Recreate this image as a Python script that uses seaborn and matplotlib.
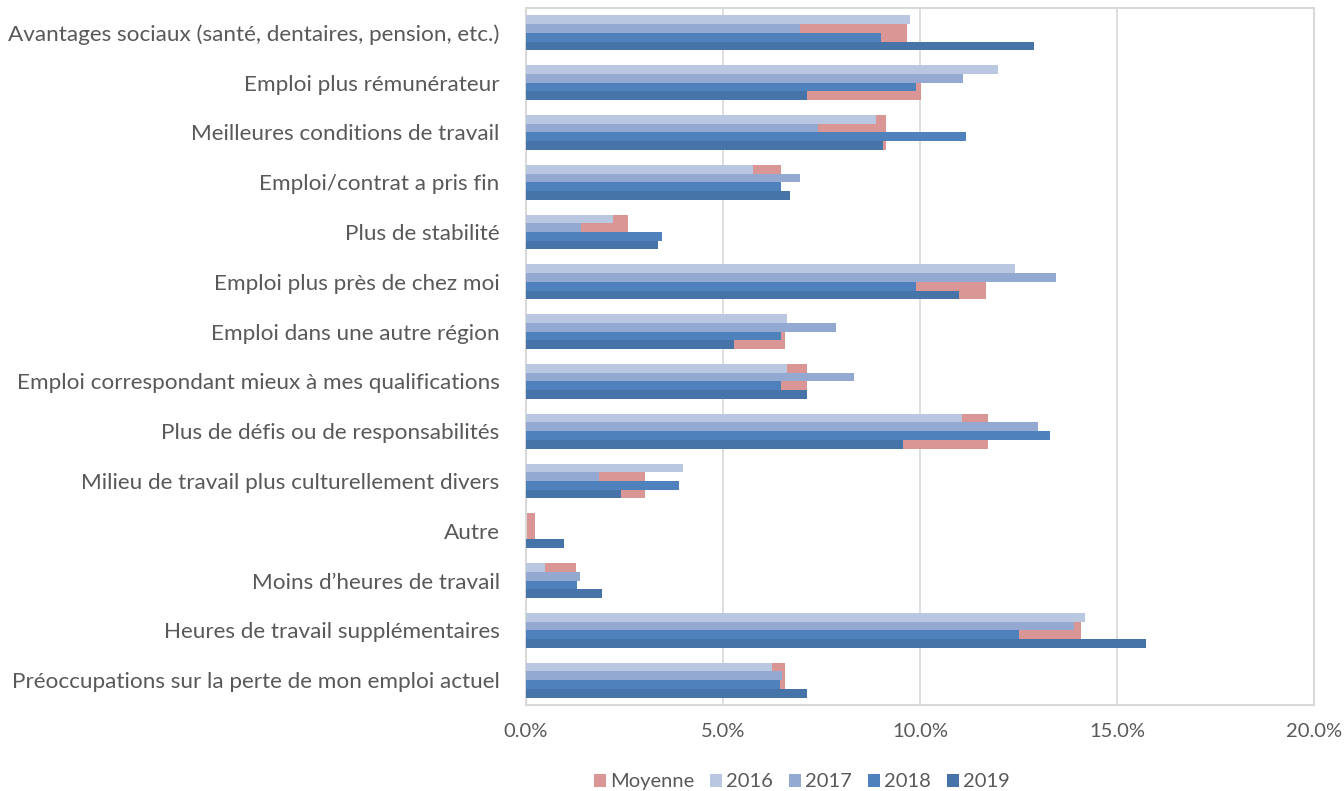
import pandas as pd
import matplotlib
matplotlib.use("Agg")
import matplotlib.pyplot as plt
import seaborn as sns
from matplotlib.ticker import PercentFormatter

# Raisons de changer d'emploi (% des répondants)
categories = [
    "Avantages sociaux (santé, dentaires, pension, etc.)",
    "Emploi plus rémunérateur",
    "Meilleures conditions de travail",
    "Emploi/contrat a pris fin",
    "Plus de stabilité",
    "Emploi plus près de chez moi",
    "Emploi dans une autre région",
    "Emploi correspondant mieux à mes qualifications",
    "Plus de défis ou de responsabilités",
    "Milieu de travail plus culturellement divers",
    "Autre",
    "Moins d\u2019heures de travail",
    "Heures de travail supplémentaires",
    "Préoccupations sur la perte de mon emploi actuel",
]
years = ["2016", "2017", "2018", "2019"]
v2016 = [9.75, 11.98, 8.88, 5.77, 2.20, 12.40, 6.63, 6.63, 11.07, 3.98, 0.0, 0.47, 14.18, 6.24]
v2017 = [6.96, 11.10, 7.42, 6.96, 1.39, 13.45, 7.87, 8.32, 12.99, 1.84, 0.0, 1.38, 13.92, 6.49]
v2018 = [9.02, 9.89, 11.16, 6.46, 3.44, 9.90, 6.46, 6.46, 13.31, 3.89, 0.0, 1.29, 12.50, 6.45]
v2019 = [12.90, 7.14, 9.07, 6.69, 3.35, 10.98, 5.27, 7.13, 9.57, 2.40, 0.97, 1.93, 15.73, 7.13]
moyenne = [9.66, 10.03, 9.13, 6.47, 2.60, 11.68, 6.56, 7.14, 11.73, 3.03, 0.24, 1.27, 14.08, 6.58]

year_colors = ["#B9C7E1", "#93A9D1", "#4F81BD", "#4673A8"]
moy_color = "#D99694"
text_grey = "#595959"

df_years = pd.DataFrame({
    "cat": categories * 4,
    "annee": [y for y in years for _ in categories],
    "val": v2016 + v2017 + v2018 + v2019,
})
df_moy = pd.DataFrame({"cat": categories, "val": moyenne})

sns.set_style("white")
plt.rcParams["font.family"] = ["Lato", "DejaVu Sans"]

fig = plt.figure(figsize=(13.44, 7.91), dpi=100)
ax = fig.add_axes([0.3914, 0.1087, 0.5863, 0.8812])

# Moyenne: large bar behind the yearly bars
sns.barplot(data=df_moy, x="val", y="cat", order=categories, color=moy_color,
            width=0.7, saturation=1, linewidth=0, ax=ax, zorder=2)
sns.barplot(data=df_years, x="val", y="cat", hue="annee", order=categories,
            hue_order=years, palette=year_colors, width=0.7, saturation=1,
            linewidth=0, ax=ax, zorder=3, legend=False)

ax.set_xlim(0, 20)
ax.set_ylim(len(categories) - 0.5, -0.5)
ax.set_xticks([0, 5, 10, 15, 20])
ax.xaxis.set_major_formatter(PercentFormatter(xmax=100, decimals=1))
ax.grid(axis="x", color="#D9D9D9", linewidth=1.2, zorder=0)
ax.set_axisbelow(True)
for s in ax.spines.values():
    s.set_visible(True)
    s.set_color("#D9D9D9")
    s.set_linewidth(1.5)

ax.set_xlabel("")
ax.set_ylabel("")
ax.tick_params(axis="x", colors=text_grey, labelsize=14.5, pad=13, length=0)
ax.tick_params(axis="y", colors=text_grey, labelsize=16.2, pad=19, length=0)

handles = list(ax.containers)
ax.legend(handles, ["Moyenne"] + years, loc="upper center",
          bbox_to_anchor=(0.35, -0.072), ncol=5, frameon=False,
          handlelength=0.6, handleheight=0.6, handletextpad=0.2,
          columnspacing=0.8, fontsize=14.5, labelcolor=text_grey)

fig.savefig("out.png", dpi=100)
